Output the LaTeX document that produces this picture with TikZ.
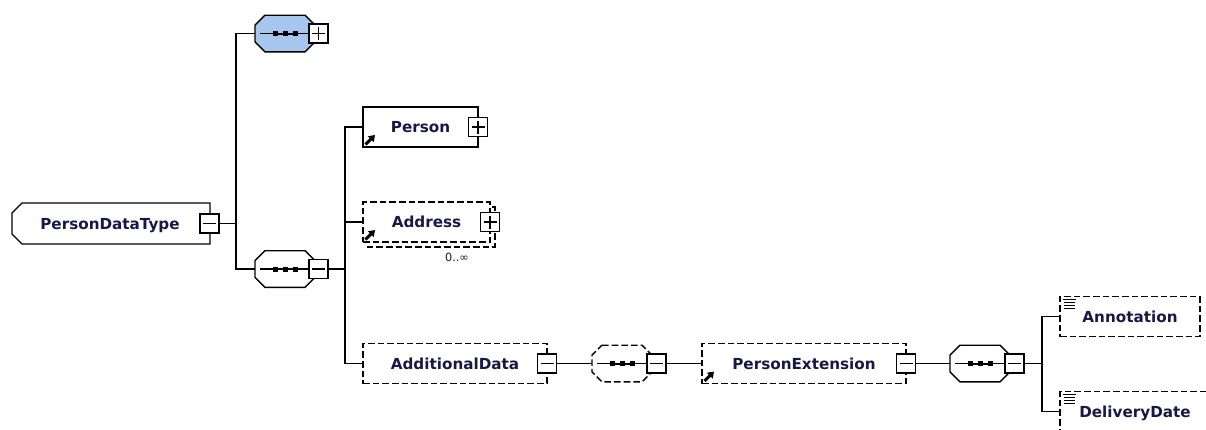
\documentclass[tikz,border=0pt]{standalone}
\usepackage{fontspec}
\newfontfamily\dvsans{DejaVu Sans}
\usetikzlibrary{calc,arrows.meta}

\definecolor{lbl}{RGB}{22,24,70}
\definecolor{seqblue}{RGB}{166,198,238}

% octagonal sequence compositor drawn around an (invisible) node
\newcommand\seqdraw[2]{%
  \draw[#2] ($(#1.north west)+(10,0)$) -- ($(#1.north east)+(-10,0)$)
    -- ($(#1.north east)+(0,10)$) -- ($(#1.south east)+(0,-10)$)
    -- ($(#1.south east)+(-10,0)$) -- ($(#1.south west)+(10,0)$)
    -- ($(#1.south west)+(0,-10)$) -- ($(#1.north west)+(0,10)$) -- cycle;
  \draw ($(#1.west)+(5,0)$) -- ($(#1.east)+(-6,0)$);
  \draw[line width=1.5pt] ($(#1.west)+(18,0)$) -- ($(#1.west)+(42,0)$);
  \foreach \d in {20,30,40} \fill ($(#1.west)+(\d-2.5,-2.5)$) rectangle ++(5,5);
}
% reference arrow in the lower left corner of an element
\newcommand\linkicon[1]{%
  \draw[line width=2.2pt,-{Triangle[length=4.5pt,width=6pt]}]
    ($(#1.south west)+(2.5,-2.5)$) -- ($(#1.south west)+(12,-12)$);
}
% simple-content marker in the upper left corner of an element
\newcommand\annoticon[1]{%
  \begin{scope}[line width=0.75pt]
    \draw ($(#1.north west)+(3,3)$) -- ++(13,0);
    \draw ($(#1.north west)+(4,6)$) -- ++(11,0);
    \draw ($(#1.north west)+(4,9)$) -- ++(11,0);
    \draw ($(#1.north west)+(4,12)$) -- ++(11,0);
  \end{scope}
}

\tikzset{
  lbltext/.style={font=\dvsans\bfseries\fontsize{11.4pt}{13pt}\selectfont,
    text=lbl, text height=8.3pt, text depth=0pt},
  elbox/.style={lbltext, draw, fill=white, inner sep=0pt, outer sep=0pt,
    minimum height=30pt},
  optbox/.style={elbox, dash pattern=on 5pt off 2.25pt},
  rootn/.style={lbltext, inner sep=0pt, outer sep=0pt,
    minimum width=148.5pt, minimum height=30.75pt},
  seqn/.style={inner sep=0pt, outer sep=0pt, minimum width=45pt,
    minimum height=27.5pt},
  btn/.style={draw, fill=white, inner sep=0pt, outer sep=0pt,
    minimum size=14.25pt},
  btnm/.style={btn, path picture={
    \draw ([xshift=2.25pt]path picture bounding box.west)
       -- ([xshift=-2.25pt]path picture bounding box.east);}},
  btnp/.style={btn, path picture={
    \draw ([xshift=2.25pt]path picture bounding box.west)
       -- ([xshift=-2.25pt]path picture bounding box.east);
    \draw ([yshift=-2.25pt]path picture bounding box.north)
       -- ([yshift=2.25pt]path picture bounding box.south);}},
  mult/.style={font=\dvsans\fontsize{8.5pt}{10pt}\selectfont, text=lbl,
    inner sep=0pt},
}

\begin{document}
\begin{tikzpicture}[x=0.75pt,y=-0.75pt,line width=1pt]
\useasboundingbox (0,0) rectangle (1206,429);
\clip (0,0) rectangle (1206,429);

% root complex type
\node[rootn] (pdt) at (110,223.5) {PersonDataType};
\draw (210,203) -- ($(pdt.north west)+(11,0)$) -- ($(pdt.north west)+(1,10)$)
  -- ($(pdt.south west)+(1,-10)$) -- ($(pdt.south west)+(11,0)$)
  -- (210,244) -- cycle;
\node[btnm] (pdtb) at (209.5,223.5) {};

% collapsed sequence (inherited content)
\node[seqn] (seq1) at (285,33.5) {};
\seqdraw{seq1}{fill=seqblue}
\node[btnp] (seq1b) at ($(seq1.east)+(3.5,0)$) {};

% main sequence
\node[seqn] (seq2) at (285,269) {};
\seqdraw{seq2}{fill=white}
\node[btnm] (seq2b) at ($(seq2.east)+(3.5,0)$) {};

% Person
\node[elbox, minimum width=86.25pt] (person) at (420.5,127) {Person};
\linkicon{person}
\node[btnp] (personb) at (person.east) {};

% Address (0..unbounded)
\draw[dash pattern=on 5pt off 2.25pt, fill=white]
  ($(426.5,222)+(-63.5+5,-20+5)$) rectangle ($(426.5,222)+(63.5+5,20+5)$);
\node[optbox, minimum width=95.25pt] (address) at (426.5,222) {Address};
\linkicon{address}
\node[btnp] (addressb) at (address.east) {};
\node[mult] (addressm) at (457,257) {0..∞};

% AdditionalData
\node[optbox, minimum width=138pt] (adddata) at (455,363.5) {AdditionalData};
\node[btnm] (adddatab) at (adddata.east) {};

% optional sequence
\node[seqn] (seq3) at (622,363.5) {};
\seqdraw{seq3}{dash pattern=on 5pt off 2.25pt}
\node[btnm] (seq3b) at ($(seq3.east)+(4.5,0)$) {};

% PersonExtension
\node[optbox, minimum width=153pt] (pext) at (804,363.5) {PersonExtension};
\linkicon{pext}
\node[btnm] (pextb) at (pext.east) {};

% extension sequence
\node[seqn] (seq4) at (980,363.5) {};
\seqdraw{seq4}{fill=white}
\node[btnm] (seq4b) at ($(seq4.east)+(4.5,0)$) {};

% Annotation and DeliveryDate
\node[optbox, minimum width=105pt] (annot) at (1130,316.5) {Annotation};
\annoticon{annot}
\node[optbox, minimum width=112.5pt] (deliv) at (1135,411.5) {DeliveryDate};
\annoticon{deliv}

% junctions
\coordinate (j1) at (236,223.5);
\coordinate (j2) at (345,269);
\coordinate (j3) at (1042,363.5);

% connectors
\draw (pdtb.east) -- (j1);
\draw (seq1.west) -| (j1) |- (seq2.west);
\draw (seq2b.east) -- (j2);
\draw (person.west) -| (j2) |- (adddata.west);
\draw (address.west) -- (address.west -| j2);
\draw (adddatab.east) -- (seq3.west);
\draw (seq3b.east) -- (pext.west);
\draw (pextb.east) -- (seq4.west);
\draw (seq4b.east) -- (j3);
\draw (annot.west) -| (j3) |- (deliv.west);
\end{tikzpicture}
\end{document}
